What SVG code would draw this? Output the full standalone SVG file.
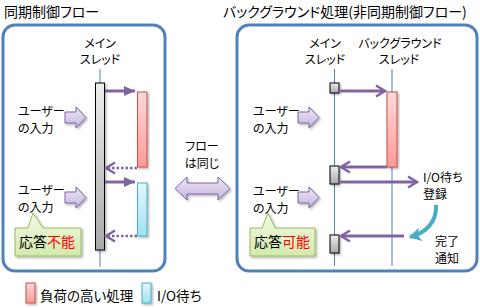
<svg xmlns="http://www.w3.org/2000/svg" width="480" height="308" viewBox="0 0 480 308">
<style>
text{font-family:"Noto Sans CJK JP","Noto Sans",sans-serif;fill:#000;font-feature-settings:"palt" 1}
.t{font-size:14px}
.s{font-size:12px}
.lg{font-size:13.5px}
.panel{fill:#fff;stroke:#4f81bd;stroke-width:3}
.life{stroke:#4f81bd;stroke-width:1;fill:none}
.arr{stroke:#8064a2;stroke-width:3;fill:none}
.dot{stroke:#8064a2;stroke-width:2.5;fill:none;stroke-dasharray:2.5 2}
.blk{fill:url(#gLav);stroke:#8064a2;stroke-width:1}
.call{fill:url(#gGreen);stroke:#9bbb59;stroke-width:1}
</style>
<defs>
<linearGradient id="gGray" x1="0" y1="0" x2="0" y2="1"><stop offset="0" stop-color="#eeeeee"/><stop offset="1" stop-color="#a8a8a8"/></linearGradient>
<linearGradient id="gRed" x1="0" y1="0" x2="0" y2="1"><stop offset="0" stop-color="#ffd9d9"/><stop offset="1" stop-color="#ff9a9a"/></linearGradient>
<linearGradient id="gCyan" x1="0" y1="0" x2="0" y2="1"><stop offset="0" stop-color="#e2f8fd"/><stop offset="1" stop-color="#9fe2f1"/></linearGradient>
<linearGradient id="gLav" x1="0" y1="0" x2="0" y2="1"><stop offset="0" stop-color="#eee8f6"/><stop offset="1" stop-color="#c4b4de"/></linearGradient>
<linearGradient id="gGreen" x1="0" y1="0" x2="0" y2="1"><stop offset="0" stop-color="#f3f9e6"/><stop offset="1" stop-color="#d2eaad"/></linearGradient>
<filter id="sh" x="-30%" y="-30%" width="160%" height="160%"><feDropShadow dx="1.5" dy="1.5" stdDeviation="1" flood-color="#000" flood-opacity="0.3"/></filter>
<marker id="mF" markerUnits="userSpaceOnUse" markerWidth="12" markerHeight="10" refX="11" refY="5" orient="auto"><path d="M0,0 L11,5 L0,10 z" fill="#8064a2"/></marker>
<marker id="mO" markerUnits="userSpaceOnUse" markerWidth="14" markerHeight="14" refX="11" refY="7" orient="auto"><path d="M2,1.5 L11,7 L2,12.5" fill="none" stroke="#8064a2" stroke-width="2.5"/></marker>
<marker id="mC" markerUnits="userSpaceOnUse" markerWidth="14" markerHeight="14" refX="11" refY="7" orient="auto"><path d="M0,0 L12,7 L0,14 L3,7 z" fill="#4bacc6"/></marker>
<path id="blkp" d="M0,5 H11 V0 L21,10.5 L11,21 V16 H0 Z"/>
</defs>

<g id="titles">
<text class="t" x="4" y="17">同期制御フロー</text>
<text class="t" x="223" y="17">バックグラウンド処理(非同期制御フロー)</text>
</g>

<g id="panel-sync"><rect class="panel" x="3" y="25" width="162" height="246" rx="12"/></g>
<g id="panel-async"><rect class="panel" x="237" y="25" width="240" height="246" rx="12"/></g>

<g id="lifelines">
<line class="life" x1="100" y1="69" x2="100" y2="267"/>
<line class="life" x1="334.5" y1="69" x2="334.5" y2="266"/>
<line class="life" x1="392" y1="69" x2="392" y2="266"/>
</g>

<g id="sync-main-thread">
<text class="s" x="100" y="48" text-anchor="middle">メイン</text>
<text class="s" x="100" y="64" text-anchor="middle">スレッド</text>
<rect x="95.5" y="83" width="9" height="167" fill="url(#gGray)" stroke="#000" stroke-width="1" filter="url(#sh)"/>
</g>
<g id="sync-heavy"><rect x="137.5" y="92" width="9.5" height="75" fill="url(#gRed)" stroke="#c0504d" stroke-width="1" filter="url(#sh)"/></g>
<g id="sync-io"><rect x="137.5" y="183" width="9.5" height="53" fill="url(#gCyan)" stroke="#4bacc6" stroke-width="1" filter="url(#sh)"/></g>

<g id="sync-input1">
<text class="s" x="18" y="116">ユーザー</text>
<text class="s" x="18" y="133">の入力</text>
<use href="#blkp" class="blk" transform="translate(65,107)" filter="url(#sh)"/>
</g>
<g id="sync-input2">
<text class="s" x="18" y="195">ユーザー</text>
<text class="s" x="18" y="212">の入力</text>
<use href="#blkp" class="blk" transform="translate(65,187)" filter="url(#sh)"/>
</g>
<g id="sync-callout">
<path class="call" d="M15,228 H28 L33,213 L43,228 H81 V256 H15 Z" filter="url(#sh)"/>
<text class="t" x="19" y="247">応答<tspan fill="#ff0000">不能</tspan></text>
</g>

<g id="middle">
<text class="s" x="202" y="151" text-anchor="middle">フロー</text>
<text class="s" x="202" y="168" text-anchor="middle">は同じ</text>
<path class="blk" d="M175,188.5 L187,177 V183 H218 V177 L230,188.5 L218,200 V194 H187 V200 Z" filter="url(#sh)"/>
</g>

<g id="async-main-thread">
<text class="s" x="325" y="48" text-anchor="middle">メイン</text>
<text class="s" x="325" y="64" text-anchor="middle">スレッド</text>
<rect x="330" y="83" width="9" height="10" fill="url(#gGray)" stroke="#000" stroke-width="1" filter="url(#sh)"/>
<rect x="330" y="166" width="9" height="18" fill="url(#gGray)" stroke="#000" stroke-width="1" filter="url(#sh)"/>
<rect x="330" y="235" width="9" height="18" fill="url(#gGray)" stroke="#000" stroke-width="1" filter="url(#sh)"/>
</g>
<g id="async-bg-thread">
<text class="s" x="400" y="48" text-anchor="middle">バックグラウンド</text>
<text class="s" x="399" y="64" text-anchor="middle">スレッド</text>
<rect x="387" y="92" width="10" height="75" fill="url(#gRed)" stroke="#c0504d" stroke-width="1" filter="url(#sh)"/>
</g>
<g id="async-input1">
<text class="s" x="253" y="116">ユーザー</text>
<text class="s" x="253" y="133">の入力</text>
<use href="#blkp" class="blk" transform="translate(298,107)" filter="url(#sh)"/>
</g>
<g id="async-input2">
<text class="s" x="253" y="196">ユーザー</text>
<text class="s" x="253" y="213">の入力</text>
<use href="#blkp" class="blk" transform="translate(298,187)" filter="url(#sh)"/>
</g>
<g id="async-callout">
<path class="call" d="M250,228 H262 L268,213 L275,228 H315 V256 H250 Z" filter="url(#sh)"/>
<text class="t" x="254" y="247">応答<tspan fill="#ff0000">可能</tspan></text>
</g>
<g id="io-register">
<text class="s" x="423" y="182">I/O待ち</text>
<text class="s" x="423" y="199">登録</text>
</g>
<g id="done-notify">
<text class="s" x="447" y="246" text-anchor="middle">完了</text>
<text class="s" x="447" y="263" text-anchor="middle">通知</text>
</g>

<g id="connectors">
<line class="arr" x1="105" y1="91" x2="135" y2="91" marker-end="url(#mF)"/>
<line class="dot" x1="137" y1="168" x2="106" y2="168" marker-end="url(#mO)"/>
<line class="arr" x1="105" y1="182" x2="135" y2="182" marker-end="url(#mF)"/>
<line class="dot" x1="137" y1="236" x2="106" y2="236" marker-end="url(#mO)"/>
<line class="arr" x1="339" y1="91" x2="385" y2="91" marker-end="url(#mO)"/>
<line class="arr" x1="387" y1="167" x2="341" y2="167" marker-end="url(#mO)"/>
<line class="arr" x1="339" y1="182" x2="417" y2="182" marker-end="url(#mO)"/>
<line class="arr" x1="404" y1="236" x2="341" y2="236" marker-end="url(#mO)"/>
<path d="M436,205 C437,222 426,233 410,237" fill="none" stroke="#4bacc6" stroke-width="4" marker-end="url(#mC)"/>
</g>

<g id="legend">
<rect x="26" y="283" width="9" height="20" fill="url(#gRed)" stroke="#c0504d" stroke-width="1" filter="url(#sh)"/>
<text class="lg" x="40" y="301">負荷の高い処理</text>
<rect x="142" y="283" width="9" height="20" fill="url(#gCyan)" stroke="#4bacc6" stroke-width="1" filter="url(#sh)"/>
<text class="lg" x="157" y="301">I/O待ち</text>
</g>
</svg>
